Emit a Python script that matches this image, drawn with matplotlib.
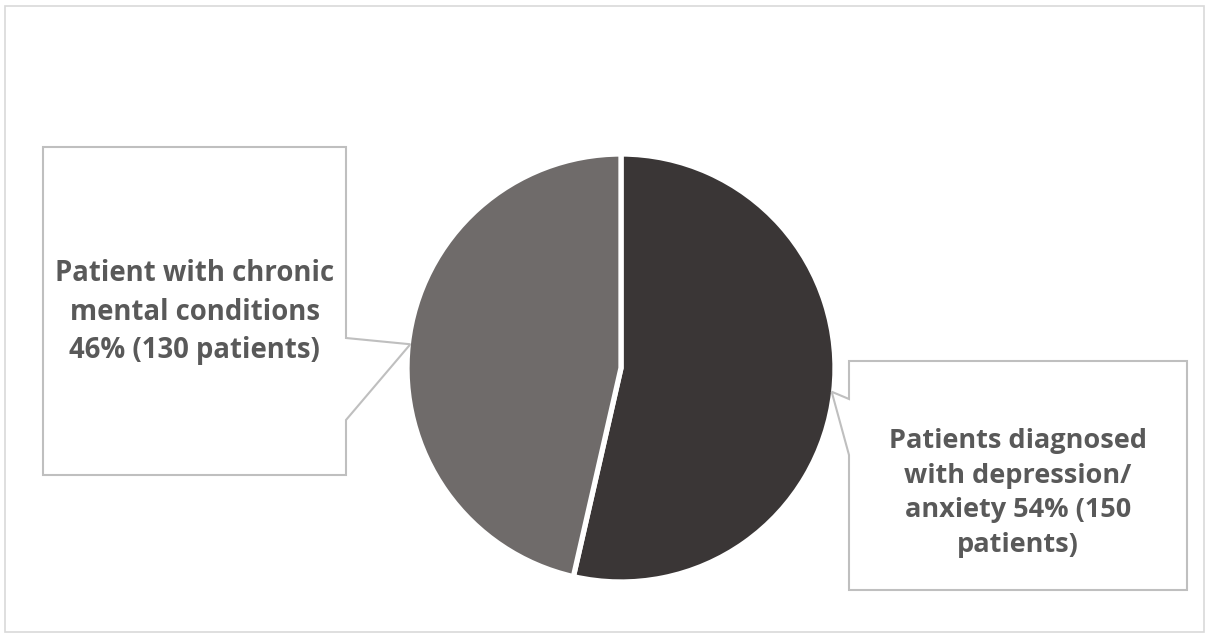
import matplotlib.pyplot as plt
import numpy as np
from matplotlib.patches import Polygon, Rectangle

# data
labels = ['Patients diagnosed\nwith depression/\nanxiety 54% (150\npatients)',
          'Patient with chronic\nmental conditions\n46% (130 patients)']
counts = [150, 130]
colors = ['#3a3636', '#6f6b6a']

W, H = 1212, 634
fig = plt.figure(figsize=(W / 100, H / 100), dpi=100)
ax = fig.add_axes([0, 0, 1, 1])

# pie geometry in pixel coords (y measured upward)
cx, cy, r = 621, H - 368, 214
wedges, _ = ax.pie(counts, colors=colors, startangle=90, counterclock=False,
                   center=(cx, cy), radius=r,
                   wedgeprops=dict(edgecolor='white', linewidth=3.8))
ax.set_xlim(0, W)
ax.set_ylim(0, H)
ax.set_aspect('auto')
ax.axis('off')

# outer chart frame
ax.add_patch(Rectangle((5, H - 632), 1199, 626, fill=False,
                       edgecolor='#d9d9d9', linewidth=1.2))

# callout boxes: (left, top, right, bottom) in pixels, pointer side, pointer base
boxes = [
    dict(box=(849, 361, 1187, 590), side='left', base=(399, 455), text_y=493, size=19.5),
    dict(box=(43, 147, 346, 475), side='right', base=(338, 420), text_y=312, size=19.8),
]

for w, lab, b in zip(wedges, labels, boxes):
    mid = np.deg2rad((w.theta1 + w.theta2) / 2)
    tip = (cx + (r - 2) * np.cos(mid), cy + (r - 2) * np.sin(mid))
    x0, y0, x1, y1 = b['box']
    b0, b1 = b['base']
    if b['side'] == 'right':
        pts = [(x0, y0), (x1, y0), (x1, b0), None, (x1, b1), (x1, y1), (x0, y1)]
    else:
        pts = [(x0, y0), (x1, y0), (x1, y1), (x0, y1), (x0, b1), None, (x0, b0)]
    pts = [(p[0], H - p[1]) if p is not None else tip for p in pts]
    ax.add_patch(Polygon(pts, closed=True, facecolor='white',
                         edgecolor='#bfbfbf', linewidth=1.5, zorder=3))
    ax.text((x0 + x1) / 2, H - b['text_y'], lab, ha='center', va='center',
            fontsize=b['size'], fontweight='bold', color='#595959',
            family='Open Sans', linespacing=1.42, zorder=4)

fig.savefig('out.png', dpi=100)
